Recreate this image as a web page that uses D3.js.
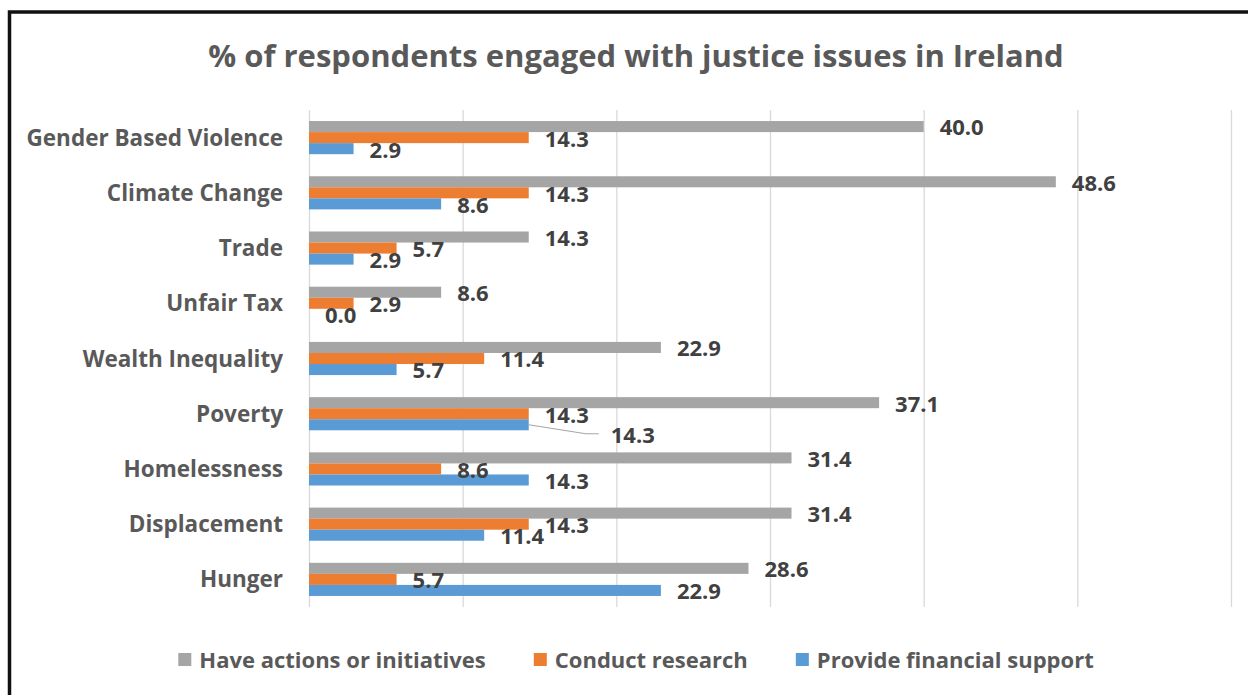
<!DOCTYPE html>
<html>
<head>
<meta charset="utf-8">
<script src="https://cdn.jsdelivr.net/npm/d3@7"></script>
<style>
  body { margin: 0; background: #fff; }
  svg text { font-family: "Open Sans", "Liberation Sans", sans-serif; font-weight: bold; }
</style>
</head>
<body>
<div id="chart"></div>
<script>
// categories, top to bottom as drawn
var categories = ['Gender Based Violence', 'Climate Change', 'Trade', 'Unfair Tax',
    'Wealth Inequality', 'Poverty', 'Homelessness', 'Displacement', 'Hunger'];
var seriesNames = ['Have actions or initiatives', 'Conduct research', 'Provide financial support'];
var haveActions = [40.0, 48.6, 14.3, 8.6, 22.9, 37.1, 31.4, 31.4, 28.6];
var conductResearch = [14.3, 14.3, 5.7, 2.9, 11.4, 14.3, 8.6, 14.3, 5.7];
var financialSupport = [2.9, 8.6, 2.9, 0.0, 5.7, 14.3, 14.3, 11.4, 22.9];
var xTicks = [0, 10, 20, 30, 40, 50, 60];
var title = '% of respondents engaged with justice issues in Ireland';

var colors = ['#a5a5a5', '#ed7d31', '#5b9bd5'];

var width = 1248, height = 695;
var margin = {top: 110, right: 17, bottom: 88, left: 309};

var svg = d3.select('#chart')
    .append('svg')
    .attr('width', width)
    .attr('height', height);

// outer frame
svg.append('rect')
    .attr('x', 9.5)
    .attr('y', 12)
    .attr('width', 1252)
    .attr('height', 700)
    .attr('fill', 'none')
    .attr('stroke', '#111')
    .attr('stroke-width', 3.5);

svg.append('text')
    .attr('x', 636)
    .attr('y', 67)
    .attr('text-anchor', 'middle')
    .attr('fill', '#595959')
    .style('font-size', '31px')
    .text(title);

var x = d3.scaleLinear()
    .domain([0, 60])
    .range([margin.left, width - margin.right]);

var y = d3.scaleBand()
    .domain(categories)
    .range([margin.top, height - margin.bottom])
    .paddingInner(0.4)
    .paddingOuter(0.2);

var ySub = d3.scaleBand()
    .domain(seriesNames)
    .range([0, y.bandwidth()]);

// vertical gridlines
var grid = svg.append('g')
    .attr('class', 'grid')
    .attr('transform', 'translate(0,' + (height - margin.bottom) + ')')
    .call(d3.axisBottom(x)
        .tickValues(xTicks)
        .tickSize(-(height - margin.bottom - margin.top))
        .tickFormat(''));
grid.select('.domain').remove();
grid.selectAll('line')
    .attr('stroke', '#d9d9d9')
    .attr('stroke-width', 1.3);

// category axis
var yAxis = svg.append('g')
    .attr('transform', 'translate(' + margin.left + ',0)')
    .call(d3.axisLeft(y).tickSize(0).tickPadding(26));
yAxis.select('.domain').remove();
yAxis.selectAll('text')
    .attr('fill', '#595959')
    .style('font-size', '22.5px')
    .attr('dy', '0.36em');

var allSeries = [haveActions, conductResearch, financialSupport];
var dataReady = seriesNames.map(function(name, s) {
    return {
        name: name,
        color: colors[s],
        values: categories.map(function(c, i) {
            return {cat: c, value: allSeries[s][i], name: name};
        })
    };
});

var groups = svg.selectAll('.series')
    .data(dataReady)
    .enter()
    .append('g')
    .attr('class', 'series')
    .attr('fill', function(d) { return d.color; });

groups.selectAll('rect')
    .data(function(d) { return d.values; })
    .enter()
    .append('rect')
    .attr('x', x(0))
    .attr('y', function(d) { return y(d.cat) + ySub(d.name); })
    .attr('width', function(d) { return x(d.value) - x(0); })
    .attr('height', ySub.bandwidth());

// label that Excel had moved away from its bar (Poverty / financial support)
var moved = {cat: 'Poverty', name: 'Provide financial support', dx: 82, dy: 10};

var labels = svg.append('g');
dataReady.forEach(function(s) {
    s.values.forEach(function(d) {
        var bx = x(d.value);
        var by = y(d.cat) + ySub(d.name) + ySub.bandwidth() / 2;
        var lx = bx + 16, ly = by + 1;
        if (d.cat === moved.cat && d.name === moved.name) {
            lx = bx + moved.dx;
            ly = by + moved.dy;
            labels.append('polyline')
                .attr('points', [[bx, by], [lx - 25, ly - 1], [lx - 12, ly - 1]].join(' '))
                .attr('fill', 'none')
                .attr('stroke', '#a6a6a6')
                .attr('stroke-width', 1.2);
        }
        labels.append('text')
            .attr('x', lx)
            .attr('y', ly)
            .attr('dy', '0.36em')
            .attr('fill', '#404040')
            .style('font-size', '22px')
            .text(d.value.toFixed(1));
    });
});

// legend
var legend = svg.append('g').attr('class', 'legend');
var lg = legend.selectAll('g')
    .data(dataReady)
    .enter()
    .append('g');

lg.append('rect')
    .attr('x', 0)
    .attr('y', -7)
    .attr('width', 13)
    .attr('height', 13)
    .attr('fill', function(d) { return d.color; });

lg.append('text')
    .attr('x', 21)
    .attr('y', 0)
    .attr('dy', '0.36em')
    .attr('fill', '#595959')
    .style('font-size', '22px')
    .text(function(d) { return d.name; });

var offset = 0;
lg.attr('transform', function() {
    var px = offset;
    offset += this.getBBox().width + 48;
    return 'translate(' + px + ',0)';
});
var lw = legend.node().getBBox().width;
legend.attr('transform', 'translate(' + (636 - lw / 2) + ',660)');
</script>
</body>
</html>
